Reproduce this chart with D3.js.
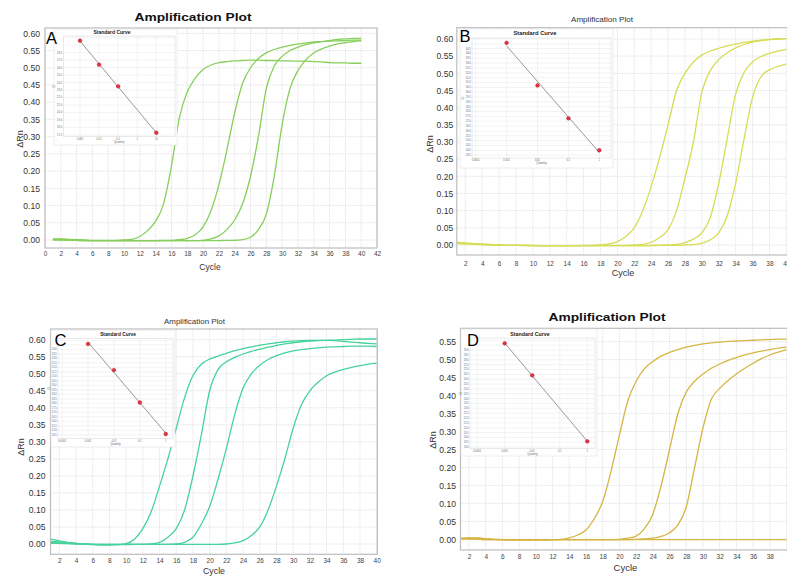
<!DOCTYPE html>
<html>
<head>
<meta charset="utf-8">
<script src="https://cdn.jsdelivr.net/npm/d3@7"></script>
<style>
  html, body { margin: 0; padding: 0; background: #fff; }
  svg { display: block; font-family: "Liberation Sans", Arial, sans-serif; }
</style>
</head>
<body>
<svg id="chart" width="787" height="576"></svg>
<script>
// ---------- data ----------
const cycles = [1,2,3,4,5,6,7,8,9,10,11,12,13,14,15,16,17,18,19,20,
                21,22,23,24,25,26,27,28,29,30,31,32,33,34,35,36,37,38,39,40];

// Panel A amplification curves (ΔRn per cycle)
const ampA1 = [0.003,0.003,0.002,0.001,0.000,-0.001,-0.001,-0.001,-0.001,0.000,
               0.002,0.010,0.028,0.055,0.105,0.215,0.355,0.430,0.470,0.495,
               0.508,0.515,0.518,0.520,0.521,0.522,0.522,0.521,0.521,0.520,
               0.520,0.519,0.519,0.518,0.517,0.515,0.514,0.514,0.513,0.513];
const ampA2 = [0.002,0.002,0.001,0.000,-0.001,-0.002,-0.002,-0.002,-0.002,-0.002,
               -0.002,-0.002,-0.002,-0.002,-0.001,-0.001,0.001,0.005,0.015,0.038,
               0.085,0.160,0.260,0.370,0.455,0.500,0.527,0.543,0.553,0.560,
               0.565,0.569,0.572,0.575,0.576,0.577,0.578,0.579,0.580,0.580];
const ampA3 = [0.001,0.001,0.000,-0.001,-0.002,-0.002,-0.002,-0.002,-0.002,-0.002,
               -0.002,-0.002,-0.002,-0.002,-0.002,-0.002,-0.002,-0.002,-0.002,-0.001,
               0.003,0.012,0.030,0.058,0.105,0.185,0.300,0.440,0.505,0.533,
               0.550,0.560,0.567,0.572,0.576,0.579,0.582,0.584,0.585,0.585];
const ampA4 = [0.000,0.000,-0.001,-0.001,-0.002,-0.002,-0.002,-0.002,-0.002,-0.002,
               -0.002,-0.002,-0.002,-0.002,-0.002,-0.002,-0.002,-0.002,-0.002,-0.002,
               -0.002,-0.002,-0.001,-0.001,0.001,0.008,0.030,0.075,0.185,0.335,
               0.440,0.492,0.523,0.543,0.555,0.563,0.569,0.573,0.576,0.578];

// Panel B
const ampB1 = [0.008,0.006,0.004,0.003,0.002,0.000,-0.001,-0.001,-0.001,-0.001,
               -0.002,-0.002,-0.002,-0.002,-0.002,-0.001,-0.001,0.000,0.003,0.010,
               0.025,0.050,0.100,0.170,0.255,0.350,0.450,0.500,0.533,0.553,
               0.565,0.573,0.580,0.585,0.590,0.594,0.597,0.599,0.600,0.601];
const ampB2 = [0.006,0.005,0.003,0.002,0.001,0.000,-0.001,-0.001,-0.001,-0.002,
               -0.002,-0.002,-0.002,-0.002,-0.002,-0.002,-0.002,-0.001,-0.001,-0.001,
               -0.001,0.000,0.002,0.008,0.022,0.045,0.100,0.195,0.300,0.445,
               0.508,0.540,0.560,0.574,0.584,0.591,0.595,0.598,0.600,0.601];
const ampB3 = [0.005,0.004,0.003,0.002,0.001,0.000,-0.001,-0.001,-0.002,-0.002,
               -0.002,-0.002,-0.002,-0.002,-0.002,-0.002,-0.002,-0.002,-0.002,-0.002,
               -0.002,-0.002,-0.002,-0.001,-0.001,0.000,0.002,0.007,0.017,0.035,
               0.080,0.180,0.310,0.440,0.503,0.533,0.549,0.558,0.565,0.570];
const ampB4 = [0.004,0.003,0.002,0.001,0.000,0.000,-0.001,-0.001,-0.001,-0.002,
               -0.002,-0.002,-0.002,-0.002,-0.002,-0.002,-0.002,-0.002,-0.002,-0.002,
               -0.002,-0.002,-0.002,-0.002,-0.001,-0.001,-0.001,0.000,0.001,0.005,
               0.015,0.035,0.085,0.180,0.310,0.430,0.490,0.510,0.520,0.527];

// Panel C
const ampC1 = [0.014,0.009,0.005,0.002,0.000,-0.002,-0.003,-0.003,-0.002,0.001,
               0.014,0.045,0.095,0.170,0.250,0.340,0.430,0.495,0.528,0.543,
               0.552,0.560,0.568,0.574,0.579,0.584,0.588,0.591,0.594,0.596,
               0.597,0.598,0.598,0.598,0.597,0.595,0.593,0.591,0.589,0.588];
const ampC2 = [0.008,0.006,0.004,0.002,0.000,-0.001,-0.002,-0.002,-0.002,-0.002,
               -0.001,-0.001,0.000,0.005,0.020,0.045,0.100,0.200,0.320,0.450,
               0.512,0.535,0.548,0.558,0.566,0.572,0.578,0.583,0.588,0.591,
               0.594,0.596,0.597,0.598,0.599,0.600,0.601,0.602,0.602,0.602];
const ampC3 = [0.004,0.003,0.002,0.001,0.000,-0.001,-0.001,-0.001,-0.001,-0.001,
               -0.001,-0.001,-0.001,-0.001,-0.001,0.000,0.005,0.020,0.058,0.110,
               0.190,0.280,0.380,0.458,0.500,0.525,0.542,0.553,0.561,0.567,
               0.571,0.574,0.576,0.578,0.579,0.580,0.581,0.581,0.581,0.580];
const ampC4 = [0.002,0.002,0.001,0.000,-0.001,-0.001,-0.001,-0.001,-0.001,-0.001,
               -0.001,-0.001,-0.001,-0.001,-0.001,-0.001,-0.001,-0.001,-0.001,-0.001,
               -0.001,0.000,0.003,0.010,0.025,0.050,0.100,0.170,0.250,0.340,
               0.410,0.450,0.475,0.494,0.505,0.513,0.519,0.524,0.528,0.531];

// Panel D
const ampD1 = [0.002,0.003,0.003,0.001,0.000,-0.001,-0.002,-0.002,-0.002,-0.002,
               -0.002,-0.001,0.000,0.004,0.012,0.026,0.058,0.105,0.190,0.290,
               0.385,0.440,0.475,0.495,0.510,0.520,0.528,0.535,0.540,0.544,
               0.547,0.549,0.551,0.552,0.553,0.554,0.555,0.556,0.557,0.557];
const ampD2 = [0.001,0.001,0.000,-0.001,-0.001,-0.001,-0.001,-0.001,-0.001,-0.001,
               -0.001,-0.001,-0.001,-0.001,-0.001,-0.001,-0.001,-0.001,-0.001,0.000,
               0.003,0.009,0.030,0.070,0.150,0.250,0.350,0.410,0.440,0.460,
               0.476,0.488,0.498,0.506,0.513,0.519,0.524,0.528,0.532,0.535];
const ampD3 = [0.001,0.001,0.000,-0.001,-0.001,-0.001,-0.001,-0.001,-0.001,-0.001,
               -0.001,-0.001,-0.001,-0.001,-0.001,-0.001,-0.001,-0.001,-0.001,-0.001,
               -0.001,0.000,0.001,0.003,0.008,0.018,0.040,0.090,0.200,0.310,
               0.390,0.420,0.442,0.460,0.476,0.490,0.503,0.513,0.521,0.528];
const ampD4 = [0.003,0.004,0.004,0.002,0.000,-0.001,-0.001,-0.001,-0.001,-0.001,
               -0.001,-0.001,-0.001,-0.001,-0.001,-0.001,-0.001,-0.001,-0.001,-0.001,
               -0.001,-0.001,-0.001,-0.001,-0.001,-0.001,-0.001,-0.001,-0.001,-0.001,
               -0.001,-0.001,-0.001,-0.001,-0.001,-0.001,-0.001,-0.001,-0.001,-0.001];

// Standard curves (quantity, Ct)
const stdA_qty = [0.001, 0.01, 0.1, 10];
const stdA_ct  = [29.6, 26.4, 23.5, 17.3];
const stdB_qty = [0.001, 0.01, 0.1, 1];
const stdB_ct  = [35.1, 30.7, 27.3, 24.0];
const stdC_qty = [0.001, 0.01, 0.1, 1];
const stdC_ct  = [24.6, 21.7, 18.1, 14.6];
const stdD_qty = [0.001, 0.01, 1];
const stdD_ct  = [29.7, 26.4, 19.6];

// Tick values
const xTicksA   = [0,2,4,6,8,10,12,14,16,18,20,22,24,26,28,30,32,34,36,38,40,42];
const xTicksBC  = [2,4,6,8,10,12,14,16,18,20,22,24,26,28,30,32,34,36,38,40];
const xTicksD   = [2,4,6,8,10,12,14,16,18,20,22,24,26,28,30,32,34,36,38];
const yTicks60  = [0,0.05,0.10,0.15,0.20,0.25,0.30,0.35,0.40,0.45,0.50,0.55,0.60];
const yTicks55  = [0,0.05,0.10,0.15,0.20,0.25,0.30,0.35,0.40,0.45,0.50,0.55];
const stdQtyTicks = [0.0001, 0.001, 0.01, 0.1, 1, 10];

// ---------- layout ----------
const panels = [
  { letter: "A", series: [ampA1, ampA2, ampA3, ampA4], color: "#86cf5a",
    xDomain: [0, 42], xRange: [45, 377], xTicks: xTicksA, xGrid: xTicksA,
    yDomain: [0, 0.6], yRange: [240, 33.3], yTicks: yTicks60,
    frame: { l: 45, r: 377, t: 28, b: 248 }, xGap: 3, yGap: 5,
    title: { x: 193, y: 21, size: 11, bold: true, len: 117 },
    cycleLabel: { x: 210, y: 270, size: 8.5 }, rnLabel: { x: 19.5, y: 139 },
    letterPos: { x: 46, y: 43.5 },
    inset: { box: [54, 29, 177, 145], plot: { l: 63.3, r: 175, t: 36, b: 136.7 },
             logX: [-3.875, 1.98], yDomain: [16.77, 30.23], yStep: 1,
             qty: stdA_qty, ct: stdA_ct, title: [112, 33.5, 5] } },
  { letter: "B", series: [ampB1, ampB2, ampB3, ampB4], color: "#d7dc55",
    xDomain: [1, 41], xRange: [456.85, 794.8], xTicks: xTicksBC, xGrid: xTicksBC,
    yDomain: [0, 0.6], yRange: [245, 39], yTicks: yTicks60,
    frame: { l: 456.8, r: 794.8, t: 27.7, b: 255 }, xGap: 6, yGap: 3.5,
    title: { x: 602, y: 22, size: 7.5, bold: false, len: 62 },
    cycleLabel: { x: 623, y: 276, size: 9 }, rnLabel: { x: 430, y: 144 },
    letterPos: { x: 459.5, y: 42 },
    inset: { box: [460, 29, 613, 168], plot: { l: 472, r: 611, t: 38, b: 158 },
             logX: [-4.12, 0.38], yDomain: [23.2, 35.6], yStep: 0.5,
             qty: stdB_qty, ct: stdB_ct, title: [535, 35, 5.8] } },
  { letter: "C", series: [ampC1, ampC2, ampC3, ampC4], color: "#46d29c",
    xDomain: [1, 40], xRange: [50.95, 376.7], xTicks: xTicksBC, xGrid: xTicksBC,
    yDomain: [0, 0.6], yRange: [544, 339.7], yTicks: yTicks60,
    frame: { l: 50.5, r: 377.3, t: 329, b: 554.3 }, xGap: 4, yGap: 5,
    title: { x: 194.5, y: 323.5, size: 7.5, bold: false, len: 61 },
    cycleLabel: { x: 214, y: 574, size: 8.8 }, rnLabel: { x: 21, y: 447 },
    letterPos: { x: 54.5, y: 345.5 },
    inset: { box: [51, 330, 175, 447], plot: { l: 58, r: 173, t: 338.3, b: 438.3 },
             logX: [-4.16, 0.28], yDomain: [14.12, 25.23], yStep: 0.5,
             qty: stdC_qty, ct: stdC_ct, title: [118, 335.7, 4.8] } },
  { letter: "D", series: [ampD1, ampD2, ampD3, ampD4], color: "#d5b544",
    xDomain: [1, 41], xRange: [460.64, 794.9], xTicks: xTicksD, xGrid: xTicksBC,
    yDomain: [0, 0.55], yRange: [539.3, 341.7], yTicks: yTicks55,
    frame: { l: 460.5, r: 794.9, t: 328.3, b: 550 }, xGap: 4.4, yGap: 4.5,
    title: { x: 607, y: 321, size: 11, bold: true, len: 117 },
    cycleLabel: { x: 625.5, y: 570.5, size: 9.5 }, rnLabel: { x: 432.5, y: 440 },
    letterPos: { x: 467, y: 345.5 },
    inset: { box: [461, 329, 597, 456], plot: { l: 470, r: 595, t: 338, b: 448.7 },
             logX: [-4.26, 0.28], yDomain: [18.84, 30.25], yStep: 0.5,
             qty: stdD_qty, ct: stdD_ct, title: [530, 336, 5.3] } }
];

const svg = d3.select("#chart");
const defs = svg.append("defs");
const LETTER_SIZE = 16.5;

panels.forEach(p => drawPanel(p));

function drawPanel(p) {
  const g = svg.append("g").attr("class", "panel-" + p.letter);
  const f = p.frame;
  const x = d3.scaleLinear().domain(p.xDomain).range(p.xRange);
  const y = d3.scaleLinear().domain(p.yDomain).range(p.yRange);

  // plot background
  g.append("rect").attr("x", f.l).attr("y", f.t)
    .attr("width", f.r - f.l).attr("height", f.b - f.t).attr("fill", "#fff");

  // grid
  const grid = g.append("g").attr("stroke", "#d8d8d8").attr("stroke-width", 0.7)
    .attr("stroke-dasharray", "1.5,1");
  grid.selectAll(".vx").data(p.xGrid).join("line")
    .attr("x1", d => x(d)).attr("x2", d => x(d)).attr("y1", f.t).attr("y2", f.b);
  grid.selectAll(".hy").data(p.yTicks).join("line")
    .attr("x1", f.l).attr("x2", f.r).attr("y1", d => y(d)).attr("y2", d => y(d));

  // axes (labels only; frame drawn separately)
  const xAxis = d3.axisBottom(x).tickValues(p.xTicks).tickSize(0).tickPadding(p.xGap)
    .tickFormat(d3.format("d"));
  const xg = g.append("g").attr("transform", `translate(0,${f.b})`).call(xAxis);
  xg.select(".domain").remove();
  xg.selectAll("text").attr("font-size", 6.5).attr("fill", "#444")
    .attr("font-family", "Liberation Sans, Arial, sans-serif");

  const yAxis = d3.axisLeft(y).tickValues(p.yTicks).tickSize(0).tickPadding(p.yGap)
    .tickFormat(d3.format(".2f"));
  const yg = g.append("g").attr("transform", `translate(${f.l},0)`).call(yAxis);
  yg.select(".domain").remove();
  yg.selectAll("text").attr("font-size", 8.6).attr("fill", "#333")
    .attr("font-family", "Liberation Sans, Arial, sans-serif");

  // curves
  const clipId = "clip-" + p.letter;
  defs.append("clipPath").attr("id", clipId).append("rect")
    .attr("x", f.l).attr("y", f.t).attr("width", f.r - f.l).attr("height", f.b - f.t);
  const line = d3.line().x((d, j) => x(cycles[j])).y(d => y(d)).curve(d3.curveMonotoneX);
  g.append("g").attr("clip-path", `url(#${clipId})`)
    .selectAll("path").data(p.series).join("path")
    .attr("d", line).attr("fill", "none").attr("stroke", p.color)
    .attr("stroke-width", 1.3).attr("stroke-linejoin", "round");

  // frame
  g.append("rect").attr("x", f.l).attr("y", f.t)
    .attr("width", f.r - f.l).attr("height", f.b - f.t)
    .attr("fill", "none").attr("stroke", "#bdbdbd").attr("stroke-width", 1.2);

  // titles
  g.append("text").attr("x", p.title.x).attr("y", p.title.y)
    .attr("text-anchor", "middle").attr("font-size", p.title.size)
    .attr("font-weight", p.title.bold ? "bold" : "normal")
    .attr("fill", p.title.bold ? "#111" : "#333")
    .attr("textLength", p.title.len).attr("lengthAdjust", "spacingAndGlyphs")
    .text("Amplification Plot");
  g.append("text").attr("x", p.cycleLabel.x).attr("y", p.cycleLabel.y)
    .attr("text-anchor", "middle").attr("font-size", p.cycleLabel.size)
    .attr("fill", "#333").text("Cycle");
  g.append("text")
    .attr("transform", `translate(${p.rnLabel.x},${p.rnLabel.y}) rotate(-90)`)
    .attr("text-anchor", "middle").attr("dy", "0.35em")
    .attr("font-size", 9).attr("fill", "#333").text("ΔRn");

  // area covered by the panel letter (inset labels there are hidden beneath it)
  const letterBox = { l: p.letterPos.x - 1, r: p.letterPos.x + 13,
                      t: p.letterPos.y - 13, b: p.letterPos.y + 2 };
  drawInset(g, p.inset, letterBox);

  // panel letter
  g.append("text").attr("x", p.letterPos.x).attr("y", p.letterPos.y)
    .attr("font-size", LETTER_SIZE).attr("fill", "#000").text(p.letter);
}

function drawInset(g, s, letterBox) {
  const ig = g.append("g").attr("class", "inset");
  const [bx0, by0, bx1, by1] = s.box;
  const pl = s.plot;
  ig.append("rect").attr("x", bx0).attr("y", by0)
    .attr("width", bx1 - bx0).attr("height", by1 - by0)
    .attr("fill", "#fff").attr("stroke", "#e2e2e2").attr("stroke-width", 0.6);

  const x = d3.scaleLog().domain([Math.pow(10, s.logX[0]), Math.pow(10, s.logX[1])])
    .range([pl.l, pl.r]);
  const y = d3.scaleLinear().domain(s.yDomain).range([pl.b, pl.t]);

  const yTickVals = d3.range(Math.ceil(s.yDomain[0] / s.yStep) * s.yStep,
                             s.yDomain[1] + 1e-9, s.yStep);
  const xTickVals = stdQtyTicks.filter(v => v >= x.domain()[0] && v <= x.domain()[1]);

  // grid
  const grid = ig.append("g").attr("stroke", "#e6e6e6").attr("stroke-width", 0.5);
  grid.selectAll(".gy").data(yTickVals).join("line")
    .attr("x1", pl.l).attr("x2", pl.r).attr("y1", d => y(d)).attr("y2", d => y(d));
  grid.selectAll(".gx").data(xTickVals).join("line")
    .attr("x1", d => x(d)).attr("x2", d => x(d)).attr("y1", pl.t).attr("y2", pl.b);
  ig.append("rect").attr("x", pl.l).attr("y", pl.t)
    .attr("width", pl.r - pl.l).attr("height", pl.b - pl.t)
    .attr("fill", "none").attr("stroke", "#d4d4d4").attr("stroke-width", 0.5);

  // tick labels (those lying under the panel letter are not visible)
  const labelRight = pl.l - 1.2, labelLeft = labelRight - 6;
  const visibleY = yTickVals.filter(v => {
    const yy = y(v);
    const underLetter = yy > letterBox.t && yy < letterBox.b &&
                        labelRight > letterBox.l && labelLeft < letterBox.r;
    return !underLetter;
  });
  ig.append("g").selectAll("text").data(visibleY).join("text")
    .attr("x", labelRight).attr("y", d => y(d)).attr("dy", "0.35em")
    .attr("text-anchor", "end").attr("font-size", 2.6).attr("fill", "#666")
    .text(d => d.toFixed(1));
  ig.append("g").selectAll("text").data(xTickVals).join("text")
    .attr("x", d => x(d)).attr("y", pl.b + 3.2)
    .attr("text-anchor", "middle").attr("font-size", 2.6).attr("fill", "#666")
    .text(d => d3.format("~g")(d));
  ig.append("text").attr("x", (pl.l + pl.r) / 2).attr("y", pl.b + 6.3)
    .attr("text-anchor", "middle").attr("font-size", 2.8).attr("fill", "#666")
    .text("Quantity");
  ig.append("text")
    .attr("transform", `translate(${pl.l - 8},${(pl.t + pl.b) / 2}) rotate(-90)`)
    .attr("text-anchor", "middle").attr("font-size", 2.8).attr("fill", "#666").text("Ct");

  // title
  ig.append("text").attr("x", s.title[0]).attr("y", s.title[1])
    .attr("text-anchor", "middle").attr("font-size", s.title[2])
    .attr("font-weight", "bold").attr("fill", "#222").text("Standard Curve");

  // regression line (least squares of Ct on log10 quantity)
  const pts = s.qty.map((q, i) => ({ lx: Math.log10(q), ct: s.ct[i], q }));
  const mx = d3.mean(pts, d => d.lx), my = d3.mean(pts, d => d.ct);
  const slope = d3.sum(pts, d => (d.lx - mx) * (d.ct - my)) / d3.sum(pts, d => (d.lx - mx) ** 2);
  const icpt = my - slope * mx;
  const qMin = d3.min(s.qty), qMax = d3.max(s.qty);
  ig.append("line")
    .attr("x1", x(qMin)).attr("y1", y(icpt + slope * Math.log10(qMin)))
    .attr("x2", x(qMax)).attr("y2", y(icpt + slope * Math.log10(qMax)))
    .attr("stroke", "#8c8c8c").attr("stroke-width", 0.9);

  ig.append("g").selectAll("circle").data(pts).join("circle")
    .attr("cx", d => x(d.q)).attr("cy", d => y(d.ct)).attr("r", 1.9)
    .attr("fill", "#e2323e").attr("stroke", "#b52030").attr("stroke-width", 0.4);
}
</script>
</body>
</html>
